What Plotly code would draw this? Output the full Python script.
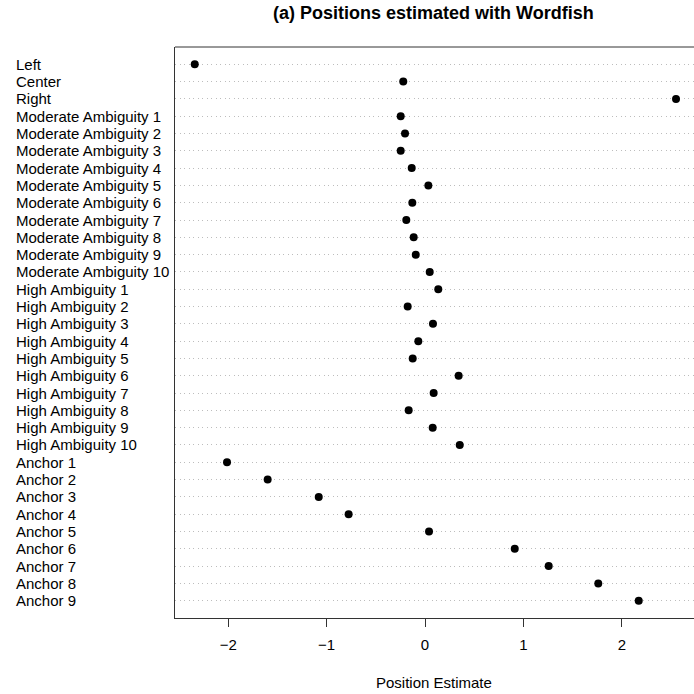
import plotly.graph_objects as go

categories = ["Left", "Center", "Right"] + \
    [f"Moderate Ambiguity {i}" for i in range(1, 11)] + \
    [f"High Ambiguity {i}" for i in range(1, 11)] + \
    [f"Anchor {i}" for i in range(1, 10)]

positions = [
    -2.340, -0.221, 2.551,
    -0.247, -0.203, -0.247, -0.135, 0.034, -0.129, -0.190, -0.115, -0.094, 0.048,
    0.135, -0.176, 0.081, -0.068, -0.125, 0.342, 0.088, -0.166, 0.078, 0.353,
    -2.012, -1.599, -1.080, -0.776, 0.041, 0.912, 1.257, 1.761, 2.172,
]

x_ticks = [-2, -1, 0, 1, 2]

rows = list(range(1, len(categories) + 1))

W, H = 694, 694
L, R, T, B = 175, 0, 47, 76
FONT = "Liberation Sans, Arial, Helvetica, sans-serif"
FS = 15

fig = go.Figure()
fig.add_trace(go.Scatter(
    x=positions, y=rows, mode="markers",
    marker=dict(color="black", size=8, line=dict(width=0)),
    hoverinfo="x+text", text=categories, showlegend=False,
))

# x range from pixel geometry: 0 at x=425, 98.4 px per unit
x0 = (L - 425) / 98.4
x1 = (W - R - 425) / 98.4

fig.update_layout(
    width=W, height=H,
    margin=dict(l=L, r=R, t=T, b=B),
    plot_bgcolor="white", paper_bgcolor="white",
    font=dict(family=FONT, size=FS, color="black"),
    xaxis=dict(
        range=[x0, x1], tickvals=x_ticks, ticks="outside", ticklen=8,
        tickcolor="#333", showgrid=False, zeroline=False,
        showline=True, linecolor="#333", linewidth=1,
        tickfont=dict(size=FS, family=FONT), ticklabelstandoff=5,
    ),
    yaxis=dict(
        range=[len(categories) + 1, 0], tickvals=rows, showticklabels=False,
        ticks="", showgrid=True, gridcolor="#bdbdbd", griddash="1px,3.5px", gridwidth=1,
        zeroline=False, showline=True, linecolor="#333", linewidth=1,
    ),
)

# top frame line (right edge falls just outside the canvas)
fig.add_shape(type="line", xref="paper", yref="paper", x0=0, x1=1.01, y0=1, y1=1,
              line=dict(color="#333", width=1))

pw = W - L - R
ph = H - T - B
for cat, r in zip(categories, rows):
    fig.add_annotation(text=cat, x=(13.5 - L) / pw, xref="paper", y=r, yref="y",
                       xanchor="left", yanchor="middle", showarrow=False,
                       font=dict(size=FS, family=FONT))

fig.add_annotation(text="<b>(a) Positions estimated with Wordfish</b>",
                   x=(433 - L) / pw, xref="paper", y=1 + (T - 13) / ph, yref="paper",
                   xanchor="center", yanchor="middle", showarrow=False,
                   font=dict(size=18, family=FONT))
fig.add_annotation(text="Position Estimate",
                   x=(434 - L) / pw, xref="paper", y=-(682.5 - (H - B)) / ph, yref="paper",
                   xanchor="center", yanchor="middle", showarrow=False,
                   font=dict(size=FS, family=FONT))

fig.write_html("out.html", config={"displayModeBar": False},
               post_script="document.body.style.margin='0';document.body.style.padding='0';")
